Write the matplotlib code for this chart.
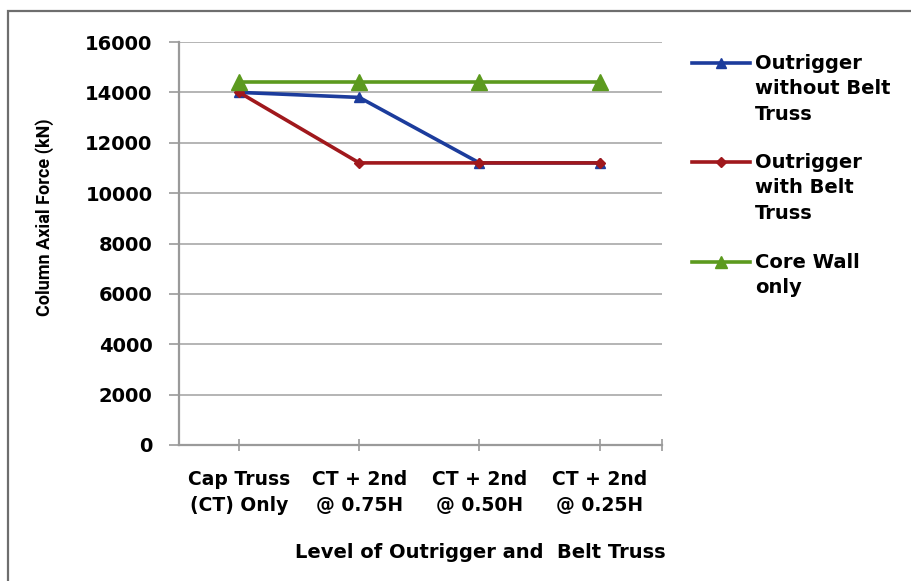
import matplotlib
matplotlib.use("Agg")
import matplotlib.pyplot as plt
from matplotlib.lines import Line2D
from matplotlib.patches import Rectangle

categories = ["Cap Truss\n(CT) Only", "CT + 2nd\n@ 0.75H", "CT + 2nd\n@ 0.50H", "CT + 2nd\n@ 0.25H"]
without_belt = [14000, 13800, 11200, 11200]
with_belt = [14000, 11200, 11200, 11200]
core_wall = [14400, 14400, 14400, 14400]
series_names = ["Outrigger\nwithout Belt\nTruss", "Outrigger\nwith Belt\nTruss", "Core Wall\nonly"]
yticks = [0, 2000, 4000, 6000, 8000, 10000, 12000, 14000, 16000]

plt.rcParams['font.family'] = ['DejaVu Sans']
plt.rcParams['font.weight'] = 'bold'

fig = plt.figure(figsize=(9.11, 5.81), dpi=100)
ax = fig.add_axes([179/911, 1-445/581, (662-179)/911, (445-42)/581])

styles = [
    (without_belt, "#1c3c9c", "^", 7),
    (with_belt, "#a0181c", "D", 5),
    (core_wall, "#5c9a1e", "^", 11),
]
x = list(range(len(categories)))
for vals, col, mk, ms in styles:
    ax.plot(x, vals, color=col, lw=2.6, marker=mk, ms=ms, clip_on=False, zorder=3)

ax.set_ylim(0, 16000)
ax.set_xlim(-0.5, 3.52)
ax.set_yticks(yticks)
ax.set_yticklabels([str(v) for v in yticks], fontsize=14, fontweight='bold')
ax.set_xticks(x)
ax.set_xticks([3.52], minor=True)
ax.set_xticklabels(categories, fontsize=13.5, fontweight='bold', linespacing=1.45)
ax.yaxis.grid(True, color="#a8a8a8", lw=1.2)
ax.set_axisbelow(True)
for s in ["top", "right"]:
    ax.spines[s].set_visible(False)
for s in ["left", "bottom"]:
    ax.spines[s].set_color("#9a9a9a")
    ax.spines[s].set_linewidth(1.6)
ax.tick_params(axis='y', length=7, color="#9a9a9a", width=1.2, pad=12)
ax.tick_params(axis='x', which='both', direction='inout', length=8, color="#9a9a9a", width=1.2, pad=14)

fig.text(45/911, 1-217/581, "Column Axial Force (kN)", rotation=90, ha='center', va='center',
         fontsize=13, fontweight='bold', family=['Roboto', 'DejaVu Sans'])
fig.text(480/911, 1-553/581, "Level of Outrigger and  Belt Truss", ha='center', va='center',
         fontsize=14, fontweight='bold')

# legend drawn by hand so the key sits on the first text line
leg_y = [63, 162, 262]
leg_ms = [6.5, 5, 9]
for (vals, col, mk, ms), name, yy, lms in zip(styles, series_names, leg_y, leg_ms):
    yf = 1 - yy/581
    fig.add_artist(Line2D([692/911, 750/911], [yf, yf], color=col, lw=2.6, transform=fig.transFigure))
    fig.add_artist(Line2D([721/911], [yf], color=col, marker=mk, ms=lms, transform=fig.transFigure))
    fig.text(755/911, yf + 9/581, name, ha='left', va='top', fontsize=14, fontweight='bold',
             linespacing=1.43)

fig.add_artist(Rectangle((8/911, -0.05), 1.0, 1 - 11/581 + 0.05, fill=False, ec="#6e6e6e", lw=1.6,
                         transform=fig.transFigure))

fig.savefig("out.png", dpi=100)
